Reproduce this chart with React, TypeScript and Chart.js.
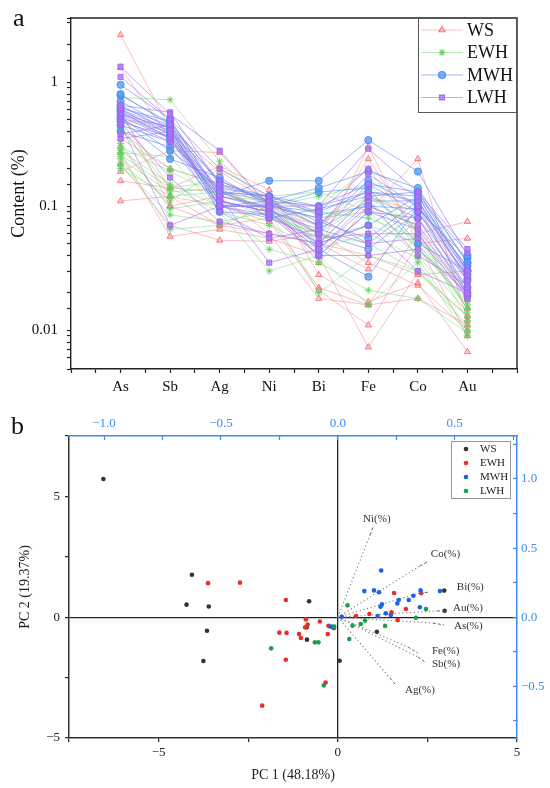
import { useEffect, useRef } from "react";
import { Chart, registerables } from "chart.js";
import { drawPoint } from "chart.js/helpers";
Chart.register(...registerables);

const serif = "'Liberation Serif', 'Times New Roman', serif";
Chart.defaults.font.family = serif;

// ---- panel a : element contents (%) ----
const elements = ["As", "Sb", "Ag", "Ni", "Bi", "Fe", "Co", "Au"];
const groups = ["WS", "EWH", "MWH", "LWH"];
const contentTickLabels = ["0.01", "0.1", "1"];

// one row per sample, columns in the order of `elements`
const wsContent = [
  [2.4, 0.42, 0.19, 0.11, 0.06, 0.24, 0.06, 0.075],
  [1.3, 0.35, 0.13, 0.09, 0.045, 0.3, 0.05, 0.055],
  [0.55, 0.14, 0.21, 0.135, 0.028, 0.017, 0.024, 0.0067],
  [0.45, 0.12, 0.1, 0.075, 0.021, 0.011, 0.05, 0.009],
  [0.3, 0.1, 0.07, 0.06, 0.018, 0.016, 0.018, 0.011],
  [0.27, 0.057, 0.065, 0.055, 0.04, 0.0073, 0.029, 0.013],
  [0.22, 0.07, 0.053, 0.052, 0.06, 0.035, 0.023, 0.01],
  [0.19, 0.28, 0.27, 0.1, 0.08, 0.09, 0.24, 0.012],
  [0.16, 0.14, 0.13, 0.12, 0.05, 0.031, 0.08, 0.02],
  [0.11, 0.12, 0.07, 0.08, 0.022, 0.016, 0.06, 0.015],
  [0.5, 0.45, 0.11, 0.09, 0.07, 0.12, 0.09, 0.025],
  [0.35, 0.2, 0.15, 0.1, 0.035, 0.1, 0.07, 0.018],
  [0.6, 0.1, 0.12, 0.06, 0.05, 0.04, 0.028, 0.03],
];
const ewhContent = [
  [0.75, 0.72, 0.23, 0.1, 0.12, 0.15, 0.06, 0.02],
  [0.4, 0.2, 0.15, 0.08, 0.06, 0.11, 0.05, 0.016],
  [0.3, 0.19, 0.12, 0.11, 0.09, 0.08, 0.055, 0.015],
  [0.28, 0.15, 0.1, 0.045, 0.035, 0.021, 0.018, 0.0095],
  [0.26, 0.14, 0.09, 0.03, 0.04, 0.016, 0.035, 0.009],
  [0.24, 0.13, 0.14, 0.09, 0.05, 0.12, 0.065, 0.012],
  [0.22, 0.11, 0.2, 0.12, 0.13, 0.09, 0.04, 0.014],
  [0.21, 0.085, 0.075, 0.09, 0.02, 0.04, 0.03, 0.011],
  [0.25, 0.065, 0.07, 0.1, 0.07, 0.14, 0.045, 0.018],
  [0.32, 0.095, 0.11, 0.085, 0.06, 0.05, 0.03, 0.013],
  [0.42, 0.14, 0.16, 0.11, 0.1, 0.2, 0.06, 0.02],
  [0.5, 0.4, 0.12, 0.1, 0.08, 0.1, 0.045, 0.017],
  [0.27, 0.25, 0.09, 0.07, 0.045, 0.06, 0.038, 0.01],
  [0.2, 0.12, 0.13, 0.095, 0.055, 0.07, 0.05, 0.015],
];
const mwhContent = [
  [0.95, 0.5, 0.12, 0.16, 0.16, 0.34, 0.19, 0.04],
  [0.8, 0.45, 0.1, 0.11, 0.14, 0.19, 0.14, 0.035],
  [0.78, 0.47, 0.13, 0.12, 0.1, 0.15, 0.13, 0.03],
  [0.7, 0.42, 0.1, 0.1, 0.09, 0.13, 0.12, 0.028],
  [0.65, 0.4, 0.16, 0.105, 0.07, 0.16, 0.1, 0.033],
  [0.6, 0.38, 0.11, 0.09, 0.065, 0.11, 0.11, 0.025],
  [0.58, 0.35, 0.12, 0.095, 0.06, 0.045, 0.09, 0.022],
  [0.55, 0.43, 0.09, 0.085, 0.05, 0.07, 0.12, 0.03],
  [0.52, 0.28, 0.14, 0.12, 0.045, 0.027, 0.1, 0.02],
  [0.5, 0.24, 0.17, 0.1, 0.04, 0.09, 0.08, 0.019],
  [0.48, 0.36, 0.1, 0.08, 0.095, 0.12, 0.13, 0.035],
  [0.45, 0.33, 0.13, 0.11, 0.075, 0.055, 0.11, 0.026],
  [0.4, 0.3, 0.1, 0.1, 0.13, 0.14, 0.05, 0.03],
  [0.62, 0.48, 0.15, 0.12, 0.085, 0.1, 0.095, 0.038],
];
const lwhContent = [
  [1.33, 0.55, 0.28, 0.1, 0.1, 0.29, 0.13, 0.045],
  [1.1, 0.5, 0.2, 0.12, 0.09, 0.2, 0.12, 0.042],
  [0.65, 0.57, 0.15, 0.11, 0.07, 0.18, 0.1, 0.03],
  [0.62, 0.45, 0.12, 0.1, 0.06, 0.15, 0.09, 0.028],
  [0.6, 0.42, 0.13, 0.095, 0.05, 0.12, 0.08, 0.025],
  [0.58, 0.4, 0.11, 0.09, 0.045, 0.1, 0.07, 0.022],
  [0.56, 0.38, 0.1, 0.085, 0.04, 0.09, 0.065, 0.02],
  [0.55, 0.36, 0.14, 0.08, 0.055, 0.06, 0.06, 0.018],
  [0.53, 0.35, 0.09, 0.055, 0.065, 0.05, 0.055, 0.019],
  [0.5, 0.33, 0.12, 0.035, 0.045, 0.11, 0.04, 0.023],
  [0.47, 0.17, 0.075, 0.06, 0.05, 0.07, 0.03, 0.02],
  [0.45, 0.07, 0.1, 0.1, 0.08, 0.05, 0.1, 0.027],
  [0.38, 0.45, 0.16, 0.11, 0.1, 0.13, 0.11, 0.032],
  [0.35, 0.4, 0.11, 0.09, 0.04, 0.04, 0.045, 0.02],
];

// ---- panel b : PCA scores [PC1, PC2] and loadings ----
const wsScores = [
  [-6.54, 5.72], [-4.07, 1.76], [-4.22, 0.52], [-3.6, 0.44], [-3.65, -0.56],
  [-3.75, -1.81], [-0.8, 0.66], [-0.87, -0.42], [-0.86, -0.93], [0.05, -1.8],
  [1.09, -0.6], [2.97, 1.1], [2.98, 0.27],
];
const ewhScores = [
  [-3.62, 1.41], [-2.73, 1.43], [-1.45, 0.71], [-0.89, -0.09], [-0.84, -0.3],
  [-0.91, -0.42], [-0.5, -0.18], [-0.26, -0.36], [-0.28, -0.7], [-0.11, -0.46],
  [-1.63, -0.64], [-1.43, -0.65], [-1.08, -0.7], [-1.03, -0.86], [-1.45, -1.76],
  [-0.34, -2.7], [-2.11, -3.66], [0.51, 0.05], [0.88, 0.13], [1.5, 0.2],
  [1.57, 1.0], [1.9, 0.34], [1.67, -0.12], [2.33, 0.99],
];
const mwhScores = [
  [1.21, 1.93], [0.74, 1.08], [1.01, 1.11], [1.15, 1.03], [2.31, 1.11],
  [2.85, 1.08], [2.11, 0.89], [1.98, 0.71], [1.7, 0.71], [1.66, 0.57],
  [1.23, 0.53], [1.19, 0.43], [2.29, 0.41], [1.34, 0.16], [1.48, 0.09],
  [1.11, 0.05], [0.11, 0.02], [-0.2, -0.39], [-0.15, -0.4],
];
const lwhScores = [
  [0.27, 0.49], [2.46, 0.34], [2.18, -0.02], [0.76, -0.14], [0.64, -0.28],
  [0.41, -0.35], [1.32, -0.36], [0.32, -0.9], [-0.1, -0.39], [-0.64, -1.04],
  [-0.54, -1.04], [-1.86, -1.29], [-0.39, -2.82],
];
const loadingNames = ["Ni(%)", "Co(%)", "Bi(%)", "Au(%)", "As(%)", "Fe(%)", "Sb(%)", "Ag(%)"];
const loadingPC1 = [0.138, 0.351, 0.351, 0.424, 0.407, 0.3, 0.343, 0.223];
const loadingPC2 = [0.595, 0.37, 0.175, 0.045, -0.042, -0.216, -0.288, -0.44];
const pc1TickLabels = [-5, 0, 5];
const pc2TickLabels = [-5, 0, 5];
const load1TickLabels = [-1, -0.5, 0, 0.5];
const load2TickLabels = [-0.5, 0, 0.5, 1];

// ---- styles ----
const topStyle = [
  { line: "rgba(242,130,140,0.5)", point: "rgba(240,95,105,0.8)", fill: "rgba(250,175,180,0.55)", shape: "triangle" },
  { line: "rgba(120,220,120,0.5)", point: "rgba(95,205,95,0.85)", fill: "rgba(150,230,150,0.55)", shape: "star" },
  { line: "rgba(85,140,240,0.6)", point: "rgba(70,140,240,0.9)", fill: "rgba(90,155,245,0.8)", shape: "circle" },
  { line: "rgba(160,110,245,0.6)", point: "rgba(160,100,240,0.9)", fill: "rgba(170,120,245,0.8)", shape: "rect" },
];
const pcaColors = ["#333333", "#ee2b2b", "#1a62ea", "#1a9e4f"];
const axisBlue = "#3d8bf0";
const axisDark = "#222";
// label position relative to vector end [dx, dy], and leader end [dx, dy]
const loadingLabelOffsets: Record<string, number[][]> = {
  "Ni(%)": [[-7, -16], [3, -8]],
  "Co(%)": [[11, -12], [7, -4]],
  "Bi(%)": [[37, -6], [10, -1]],
  "Au(%)": [[16, -3], [8, 0]],
  "As(%)": [[21, 3], [11, 2]],
  "Fe(%)": [[24, 4], [10, 6]],
  "Sb(%)": [[14, 7], [7, 5]],
  "Ag(%)": [[15, 12], [5, 6]],
};

const minus = (s: string) => s.replace("-", "\u2212");
const near = (list: number[], v: number) => list.some((l) => Math.abs(l - v) < 1e-9);

const topFrame = {
  id: "topFrame",
  afterDraw(chart: any) {
    const { ctx, chartArea: a } = chart;
    ctx.save();
    ctx.strokeStyle = axisDark;
    ctx.lineWidth = 1.4;
    ctx.beginPath();
    ctx.moveTo(a.left, a.top);
    ctx.lineTo(a.right, a.top);
    ctx.lineTo(a.right, a.bottom);
    ctx.stroke();

    // legend box
    const w = 99;
    const h = 94;
    const x0 = a.right - w;
    const y0 = a.top;
    ctx.fillStyle = "#fff";
    ctx.fillRect(x0, y0, w, h);
    ctx.strokeStyle = "#555";
    ctx.lineWidth = 1;
    ctx.strokeRect(x0 + 0.5, y0 + 0.5, w - 1, h);
    ctx.font = `18px ${serif}`;
    ctx.textBaseline = "middle";
    groups.forEach((name, g) => {
      const s = topStyle[g];
      const y = y0 + 12 + g * 22.5;
      ctx.strokeStyle = s.line;
      ctx.lineWidth = 1.2;
      ctx.beginPath();
      ctx.moveTo(x0 + 3, y);
      ctx.lineTo(x0 + 45, y);
      ctx.stroke();
      ctx.fillStyle = s.fill;
      ctx.strokeStyle = s.point;
      drawPoint(ctx, { pointStyle: s.shape, radius: 3.5, borderWidth: 1, rotation: 0 } as any, x0 + 24, y);
      ctx.fillStyle = "#111";
      ctx.fillText(name, x0 + 49, y + 1);
    });
    ctx.restore();
  },
};

const pcaDecor = {
  id: "pcaDecor",
  afterDatasetsDraw(chart: any) {
    const { ctx } = chart;
    ctx.save();
    // loading labels
    ctx.font = `11px ${serif}`;
    ctx.textBaseline = "middle";
    loadingNames.forEach((name, i) => {
      const meta = chart.getDatasetMeta(groups.length + i);
      const end = meta.data[1];
      const [lab, lead] = loadingLabelOffsets[name];
      ctx.strokeStyle = "#666";
      ctx.lineWidth = 1;
      ctx.setLineDash([3, 2]);
      ctx.beginPath();
      ctx.moveTo(end.x, end.y);
      ctx.lineTo(end.x + lead[0], end.y + lead[1]);
      ctx.stroke();
      ctx.setLineDash([]);
      ctx.fillStyle = "#333";
      ctx.fillText(name, end.x + lab[0], end.y + lab[1]);
    });
    ctx.restore();
  },
  afterDraw(chart: any) {
    const { ctx, chartArea: a } = chart;
    ctx.save();
    const w = 59;
    const h = 57;
    const x0 = a.right - 66;
    const y0 = a.top + 5;
    ctx.fillStyle = "#fff";
    ctx.fillRect(x0, y0, w, h);
    ctx.strokeStyle = "#999";
    ctx.lineWidth = 1;
    ctx.strokeRect(x0 + 0.5, y0 + 0.5, w, h);
    ctx.font = `11px ${serif}`;
    ctx.textBaseline = "middle";
    groups.forEach((name, g) => {
      const y = y0 + 8 + g * 14;
      ctx.fillStyle = pcaColors[g];
      ctx.beginPath();
      ctx.arc(x0 + 15, y, 2.3, 0, Math.PI * 2);
      ctx.fill();
      ctx.fillStyle = "#222";
      ctx.fillText(name, x0 + 29, y + 0.5);
    });
    ctx.restore();
  },
};

function topConfig(): any {
  const sets = [wsContent, ewhContent, mwhContent, lwhContent];
  const datasets = sets.flatMap((rows, g) =>
    rows.map((row) => ({
      data: row.map((v, i) => ({ x: i + 1, y: v })),
      borderColor: topStyle[g].line,
      backgroundColor: topStyle[g].fill,
      pointBorderColor: topStyle[g].point,
      pointBackgroundColor: topStyle[g].fill,
      pointStyle: topStyle[g].shape,
      pointRadius: 3.6,
      pointBorderWidth: 1,
      borderWidth: 1,
      tension: 0,
      fill: false,
      order: groups.length - g,
    }))
  );
  return {
    type: "line",
    data: { datasets },
    plugins: [topFrame],
    options: {
      responsive: false,
      animation: false,
      events: [],
      layout: { padding: { left: 0, right: 33, top: 10, bottom: 0 } },
      plugins: { legend: { display: false }, tooltip: { enabled: false } },
      scales: {
        x: {
          type: "linear",
          min: 0,
          max: 9,
          afterFit: (s: any) => { s.height = 31; },
          ticks: {
            stepSize: 0.5,
            autoSkip: false,
            maxRotation: 0,
            includeBounds: false,
            padding: 5,
            color: "#111",
            font: { size: 15, family: serif },
            callback: (v: any) => {
              const n = Number(v);
              return Number.isInteger(n) && n >= 1 && n <= elements.length ? elements[n - 1] : "";
            },
          },
          grid: { drawOnChartArea: false, tickLength: 4, tickColor: axisDark, tickWidth: 1.2 },
          border: { color: axisDark, width: 1.4 },
        },
        y: {
          type: "logarithmic",
          min: 0.00487,
          max: 3.28,
          afterFit: (s: any) => { s.width = 71; },
          ticks: {
            autoSkip: false,
            padding: 9,
            color: "#111",
            font: { size: 15, family: serif },
            callback: (v: any) => {
              const hit = contentTickLabels.find((l) => Math.abs(Math.log10(Number(v)) - Math.log10(parseFloat(l))) < 1e-6);
              return hit ?? "";
            },
          },
          grid: { drawOnChartArea: false, tickLength: 4, tickColor: axisDark, tickWidth: 1.2 },
          border: { color: axisDark, width: 1.4 },
          title: {
            display: true,
            text: "Content (%)",
            color: "#111",
            font: { size: 18, family: serif },
            padding: { top: 8, bottom: 0 },
          },
        },
      },
    },
  };
}

function bottomConfig(): any {
  const scoreSets = [wsScores, ewhScores, mwhScores, lwhScores];
  const scoreDatasets = scoreSets.map((rows, g) => ({
    label: groups[g],
    data: rows.map(([x, y]) => ({ x, y })),
    backgroundColor: pcaColors[g],
    borderColor: pcaColors[g],
    pointRadius: 2.3,
    pointBorderWidth: 0,
    order: groups.length - g,
  }));
  const loadingDatasets = loadingNames.map((name, i) => ({
    label: name,
    data: [{ x: 0, y: 0 }, { x: loadingPC1[i], y: loadingPC2[i] }],
    xAxisID: "x2",
    yAxisID: "y2",
    showLine: true,
    pointRadius: 0,
    borderColor: "#7a7a7a",
    borderWidth: 1.1,
    borderDash: [1.2, 2.6],
    order: 10,
  }));
  const tickFont = { size: 13, family: serif };
  const zeroGrid = (ctx: any) => (ctx.tick && ctx.tick.value === 0 ? axisDark : "rgba(0,0,0,0)");
  return {
    type: "scatter",
    data: { datasets: [...scoreDatasets, ...loadingDatasets] },
    plugins: [pcaDecor],
    options: {
      responsive: false,
      animation: false,
      events: [],
      layout: { padding: 0 },
      plugins: { legend: { display: false }, tooltip: { enabled: false } },
      scales: {
        x: {
          type: "linear",
          position: "bottom",
          min: -7.5,
          max: 5,
          afterFit: (s: any) => { s.height = 50; },
          ticks: {
            stepSize: 2.5,
            autoSkip: false,
            maxRotation: 0,
            padding: 3,
            color: axisDark,
            font: tickFont,
            callback: (v: any) => (near(pc1TickLabels, Number(v)) ? minus(String(v)) : ""),
          },
          grid: { color: zeroGrid, lineWidth: 1.3, tickLength: 4, tickColor: axisDark, tickWidth: 1.2 },
          border: { color: "#333", width: 1.5 },
          title: {
            display: true,
            text: "PC 1 (48.18%)",
            color: "#222",
            font: { size: 14, family: serif },
            padding: { top: 0, bottom: 4 },
          },
        },
        y: {
          type: "linear",
          position: "left",
          min: -5,
          max: 7.5,
          afterFit: (s: any) => { s.width = 69; },
          ticks: {
            stepSize: 2.5,
            autoSkip: false,
            padding: 5,
            color: axisDark,
            font: tickFont,
            callback: (v: any) => (near(pc2TickLabels, Number(v)) ? minus(String(v)) : ""),
          },
          grid: { color: zeroGrid, lineWidth: 1.3, tickLength: 4, tickColor: axisDark, tickWidth: 1.2 },
          border: { color: "#333", width: 1.5 },
          title: {
            display: true,
            text: "PC 2 (19.37%)",
            color: "#222",
            font: { size: 14, family: serif },
            padding: { top: 17, bottom: 0 },
          },
        },
        x2: {
          type: "linear",
          position: "top",
          min: -1.15,
          max: 0.7665,
          afterFit: (s: any) => { s.height = 36; },
          ticks: {
            stepSize: 0.25,
            autoSkip: false,
            includeBounds: false,
            maxRotation: 0,
            padding: 9,
            color: axisBlue,
            font: tickFont,
            callback: (v: any) => (near(load1TickLabels, Number(v)) ? minus(Number(v).toFixed(1)) : ""),
          },
          grid: { drawOnChartArea: false, tickLength: -4, tickColor: axisBlue, tickWidth: 1.2 },
          border: { color: axisBlue, width: 1.5 },
        },
        y2: {
          type: "linear",
          position: "right",
          min: -0.874,
          max: 1.311,
          afterFit: (s: any) => { s.width = 33; },
          ticks: {
            stepSize: 0.25,
            autoSkip: false,
            includeBounds: false,
            padding: 8,
            color: axisBlue,
            font: tickFont,
            callback: (v: any) => (near(load2TickLabels, Number(v)) ? minus(Number(v).toFixed(1)) : ""),
          },
          grid: { drawOnChartArea: false, tickLength: -4, tickColor: axisBlue, tickWidth: 1.2 },
          border: { color: axisBlue, width: 1.5 },
        },
      },
    },
  };
}

export default function App() {
  const topRef = useRef<HTMLCanvasElement>(null);
  const bottomRef = useRef<HTMLCanvasElement>(null);

  useEffect(() => {
    const top = new Chart(topRef.current!, topConfig());
    const bottom = new Chart(bottomRef.current!, bottomConfig());
    return () => {
      top.destroy();
      bottom.destroy();
    };
  }, []);

  const letter = { position: "absolute" as const, fontSize: 26, lineHeight: 1, color: "#111", fontFamily: serif };

  return (
    <div style={{ position: "fixed", left: 0, top: 0, width: 550, height: 788, background: "#fff" }}>
      <canvas ref={topRef} width={550} height={400} style={{ position: "absolute", left: 0, top: 0 }} />
      <canvas ref={bottomRef} width={550} height={388} style={{ position: "absolute", left: 0, top: 400 }} />
      <div style={{ ...letter, left: 13, top: 5 }}>a</div>
      <div style={{ ...letter, left: 11, top: 413 }}>b</div>
    </div>
  );
}
